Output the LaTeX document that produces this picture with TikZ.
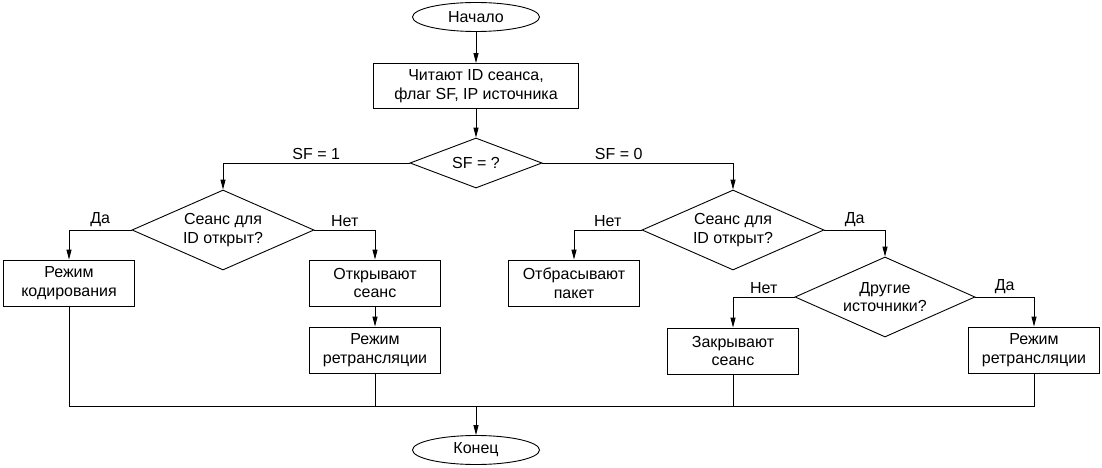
\documentclass[tikz,border=0pt]{standalone}
\usepackage{fontspec}
\setmainfont{Liberation Sans}
\usepackage{tikz}
\usetikzlibrary{positioning,arrows.meta,shapes.geometric}

\begin{document}
\begin{tikzpicture}[
  x=1pt, y=-1pt,
  font=\fontsize{16}{18.5}\selectfont,
  line width=0.9pt,
  box/.style={draw, align=center, minimum width=131pt, minimum height=46pt, inner sep=3pt},
  term/.style={draw, ellipse, minimum width=127pt, minimum height=29pt, inner sep=0pt},
  cond/.style={draw, diamond, align=center, aspect=2.3, inner sep=0pt, minimum width=182pt, minimum height=80pt},
  lbl/.style={above, inner sep=3pt, pos=0.25},
  arr/.style={-{Triangle[length=10pt,width=5pt]}}
]
\useasboundingbox (0,0) rectangle (1102,468);
\node[term] (start) at (476,17) {Начало};
\node[box, minimum width=205pt, minimum height=45pt] (read) at (476,86) {Читают ID сеанса,\\флаг SF, IP источника};
\node[cond, minimum width=132pt, minimum height=50pt] (sf) at (476,163) {SF = ?};
\node[cond] (open1) at (223,230) {Сеанс для\\ID открыт?};
\node[cond] (open0) at (733,230) {Сеанс для\\ID открыт?};
\node[cond, minimum width=180pt] (other) at (885,297) {Другие\\источники?};
\node[box] (code) at (69,283) {Режим\\кодирования};
\node[box] (newses) at (375,283) {Открывают\\сеанс};
\node[box] (relayA) at (375,350) {Режим\\ретрансляции};
\node[box] (drop) at (574,283) {Отбрасывают\\пакет};
\node[box] (close) at (733,351) {Закрывают\\сеанс};
\node[box] (relayB) at (1034,350) {Режим\\ретрансляции};
\node[term] (stop) at (476,450) {Конец};
\coordinate (bus) at (476,406);
\draw[arr] (start) -- (read); \draw[arr] (read) -- (sf);
\draw[arr] (sf) -| node[lbl]{SF = 1} (open1);
\draw[arr] (sf) -| node[lbl, pos=0.2]{SF = 0} (open0);
\draw[arr] (open1) -| node[lbl]{Да} (code);
\draw[arr] (open1) -| node[lbl]{Нет} (newses);
\draw[arr] (newses) -- (relayA);
\draw[arr] (open0) -| node[lbl]{Нет} (drop);
\draw[arr] (open0) -| node[lbl]{Да} (other);
\draw[arr] (other) -| node[lbl]{Нет} (close);
\draw[arr] (other) -| node[lbl]{Да} (relayB);
\draw (code) |- (bus) (relayA) |- (bus) (close) |- (bus) (relayB) |- (bus);
\draw[arr] (bus) -- (stop);
\end{tikzpicture}
\end{document}
